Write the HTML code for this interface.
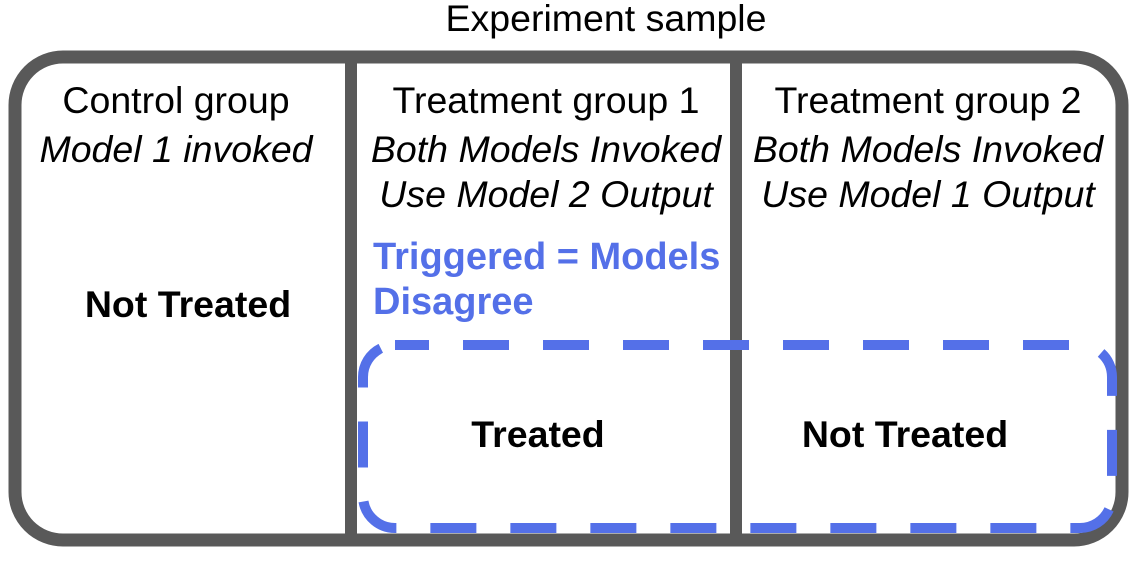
<!DOCTYPE html>
<html><head><style>
body{margin:0;background:#fff;}
svg text{font-family:"Liberation Sans",sans-serif;}
</style></head><body>
<svg width="1134" height="557" xmlns="http://www.w3.org/2000/svg">
<rect x="15" y="57" width="1107" height="483" rx="48" fill="#fff" stroke="#595959" stroke-width="13"/>
<line x1="351" y1="57" x2="351" y2="540" stroke="#595959" stroke-width="12"/>
<line x1="736" y1="57" x2="736" y2="540" stroke="#595959" stroke-width="12"/>
<rect x="363" y="345" width="749" height="183" rx="32" fill="none" stroke="#5470e8" stroke-width="10" stroke-dasharray="46 34" stroke-dashoffset="12"/>
<g font-size="37.5" fill="#000" text-anchor="middle">
<text x="606" y="31">Experiment sample</text>
<text x="176" y="113">Control group</text>
<text x="546" y="113">Treatment group 1</text>
<text x="928" y="113">Treatment group 2</text>
<g font-style="italic">
<text x="176" y="162">Model 1 invoked</text>
<text x="546" y="162">Both Models Invoked</text>
<text x="546" y="207">Use Model 2 Output</text>
<text x="928" y="162">Both Models Invoked</text>
<text x="928" y="207">Use Model 1 Output</text>
</g>
<g font-weight="bold">
<text x="188" y="317">Not Treated</text>
<text x="538" y="447">Treated</text>
<text x="905" y="447">Not Treated</text>
</g>
</g>
<g font-size="38" font-weight="bold" fill="#5470e8">
<text x="373" y="269">Triggered = Models</text>
<text x="373" y="314">Disagree</text>
</g>
</svg>
</body></html>
